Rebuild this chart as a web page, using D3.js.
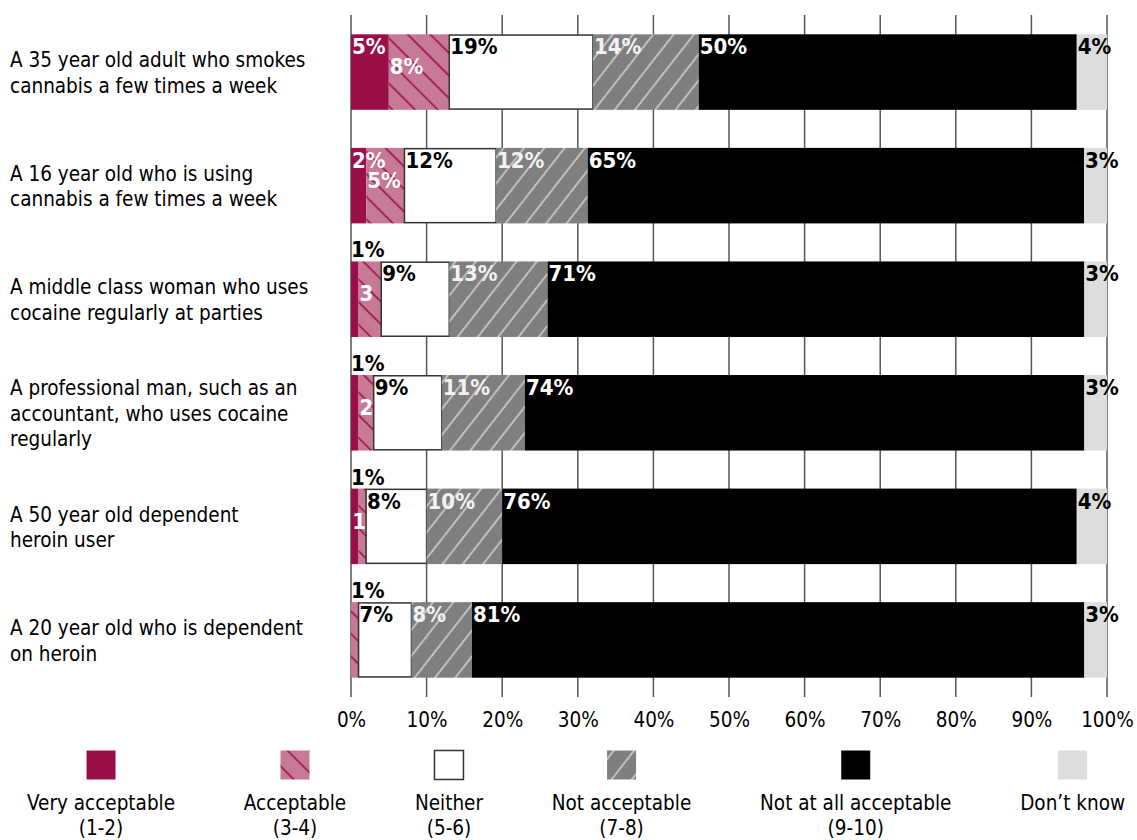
<!DOCTYPE html>
<html>
<head>
<meta charset="utf-8">
<script src="https://cdn.jsdelivr.net/npm/d3@7"></script>
<style>
  body { margin: 0; background: #fff; }
  svg text { font-family: "DejaVu Sans Condensed", "DejaVu Sans", sans-serif; }
</style>
</head>
<body>
<svg id="chart" width="1137" height="840"></svg>
<script>
// Survey statements (one entry per bar, split into display lines)
const categories = [
  ["A 35 year old adult who smokes", "cannabis a few times a week"],
  ["A 16 year old who is using", "cannabis a few times a week"],
  ["A middle class woman who uses", "cocaine regularly at parties"],
  ["A professional man, such as an", "accountant, who uses cocaine", "regularly"],
  ["A 50 year old dependent", "heroin user"],
  ["A 20 year old who is dependent", "on heroin"]
];

// Share of respondents (%) per response group, in category order
const veryAcceptable = [5, 2, 1, 1, 1, 0];
const acceptable     = [8, 5, 3, 2, 1, 1];
const neither        = [19, 12, 9, 9, 8, 7];
const notAcceptable  = [14, 12, 13, 11, 10, 8];
const notAtAll       = [50, 65, 71, 74, 76, 81];
const dontKnow       = [4, 3, 3, 3, 4, 3];

const seriesKeys = ["veryAcceptable", "acceptable", "neither", "notAcceptable", "notAtAll", "dontKnow"];
const seriesNames = [
  ["Very acceptable", "(1-2)"],
  ["Acceptable", "(3-4)"],
  ["Neither", "(5-6)"],
  ["Not acceptable", "(7-8)"],
  ["Not at all acceptable", "(9-10)"],
  ["Don\u2019t know"]
];
const tickValues = [0, 0.1, 0.2, 0.3, 0.4, 0.5, 0.6, 0.7, 0.8, 0.9, 1];

// Build row records for d3.stack
const seriesValues = [veryAcceptable, acceptable, neither, notAcceptable, notAtAll, dontKnow];
const rows = categories.map((c, i) => {
  const r = { index: i };
  seriesKeys.forEach((k, j) => { r[k] = seriesValues[j][i]; });
  return r;
});

const svg = d3.select("#chart");
const margin = { left: 351, right: 30, top: 15, bottom: 143 };
const W = 1137, H = 840;
const textSize = "20.5px";

const x = d3.scaleLinear().domain([0, 1]).range([margin.left, W - margin.right]);
const y = d3.scaleBand().domain(d3.range(categories.length))
  .range([margin.top, H - margin.bottom]).paddingInner(0.335).paddingOuter(0.17);

// Fill styles
const defs = svg.append("defs");
function hatch(id, bg, stroke, angle) {
  const p = defs.append("pattern").attr("id", id)
    .attr("patternUnits", "userSpaceOnUse").attr("width", 16).attr("height", 16)
    .attr("patternTransform", `rotate(${angle})`);
  p.append("rect").attr("width", 16).attr("height", 16).attr("fill", bg);
  p.append("line").attr("x1", 8).attr("x2", 8).attr("y1", -1).attr("y2", 17)
    .attr("stroke", stroke).attr("stroke-width", 1.6);
}
hatch("hatch-acc", "#c67a96", "#9b1048", -45);
hatch("hatch-notacc", "#7f7f7f", "#cfcfcf", 38);

const fills = ["#9b0f48", "url(#hatch-acc)", "#ffffff", "url(#hatch-notacc)", "#000000", "#dddddd"];
const strokes = ["none", "none", "#333333", "none", "none", "none"];
const labelColors = ["#ffffff", "#ffffff", "#000000", "#f2f2f2", "#ffffff", "#000000"];

// Vertical gridlines behind the bars
svg.append("g").selectAll("line").data(tickValues).join("line")
  .attr("x1", d => x(d)).attr("x2", d => x(d))
  .attr("y1", margin.top).attr("y2", H - margin.bottom)
  .attr("stroke", "#555555").attr("stroke-width", 1.5);

// Normalised stack so each bar spans 100%
const stack = d3.stack().keys(seriesKeys).offset(d3.stackOffsetExpand);
const stacked = stack(rows);

const layers = svg.append("g").selectAll("g").data(stacked).join("g");
layers.each(function (layer, si) {
  const outlined = strokes[si] !== "none";
  d3.select(this).selectAll("rect").data(layer).join("rect")
    .attr("x", d => x(d[0]))
    .attr("y", (d, i) => y(i) + (outlined ? 0.75 : 0))
    .attr("width", d => Math.max(0, x(d[1]) - x(d[0])))
    .attr("height", y.bandwidth() - (outlined ? 1.5 : 0))
    .attr("fill", fills[si])
    .attr("stroke", strokes[si])
    .attr("stroke-width", 1.5);
});

// Value labels
const labelG = svg.append("g")
  .style("font-family", '"DejaVu Sans", sans-serif')
  .style("font-weight", "bold").style("font-size", "22px");
stacked.forEach((layer, si) => {
  layer.forEach((d, i) => {
    const v = seriesValues[si][i];
    if (!v) return;
    const x0 = x(d[0]);
    const x1 = x(d[1]);
    const w = x1 - x0;
    const top = y(i);
    // a 1% share in the first non-empty segment is labelled above the bar
    const firstNonZero = seriesValues.findIndex(s => s[i] > 0) === si;
    let text = v + "%";
    let tx = x0 + 1, ty = top + 20, col = labelColors[si];
    let squeeze = false;
    if (firstNonZero && v <= 1 && si < 2) {
      ty = top - 4; col = "#000000"; tx = x(0);
    } else if (si === 1) {
      ty = top + 40;
      if (w < 30) { text = String(v); squeeze = true; }
    }
    const t = labelG.append("text").attr("x", tx).attr("y", ty).attr("fill", col).text(text);
    if (squeeze) {
      // keep a short label from running into the next segment's label
      const tw = t.node().getComputedTextLength();
      t.attr("x", Math.min(x0 + 1, x1 - tw));
    }
  });
});

// Category labels
const catG = svg.append("g").style("font-size", textSize).attr("fill", "#000");
categories.forEach((lines, i) => {
  const cy = y(i) + y.bandwidth() / 2;
  const lh = 25.5;
  const t = catG.append("text").attr("x", 10)
    .attr("y", cy - (lines.length - 1) * lh / 2 + 8);
  lines.forEach((ln, k) => {
    t.append("tspan").attr("x", 10).attr("dy", k === 0 ? 0 : lh).text(ln);
  });
});

// X axis tick labels
const axis = d3.axisBottom(x).tickValues(tickValues).tickFormat(d3.format(".0%")).tickSize(0).tickPadding(0);
const axG = svg.append("g").attr("transform", `translate(0, ${H - margin.bottom + 30})`).call(axis);
axG.select(".domain").remove();
axG.selectAll("text").style("font-size", textSize).style("font-family", null).attr("fill", "#000").attr("dy", 0);

// Legend: items spread with equal gaps across the width
const legG = svg.append("g").style("font-size", textSize);
const items = seriesNames.map((lines, si) => {
  const g = legG.append("g");
  const t = g.append("text").attr("text-anchor", "middle").attr("fill", "#000").attr("y", 810);
  lines.forEach((ln, k) => t.append("tspan").attr("x", 0).attr("dy", k === 0 ? 0 : 25).text(ln));
  const wMax = d3.max(t.selectAll("tspan").nodes(), n => n.getComputedTextLength());
  return { g, w: wMax, si };
});
const legLeft = 27, legRight = 1125;
const gap = (legRight - legLeft - d3.sum(items, d => d.w)) / (items.length - 1);
let cursor = legLeft;
items.forEach(it => {
  const cx = cursor + it.w / 2;
  it.g.attr("transform", `translate(${cx},0)`);
  it.g.insert("rect", "text").attr("x", -14.5).attr("y", 750.5).attr("width", 29).attr("height", 29)
    .attr("fill", fills[it.si]).attr("stroke", strokes[it.si]).attr("stroke-width", 1.5);
  cursor += it.w + gap;
});
</script>
</body>
</html>
